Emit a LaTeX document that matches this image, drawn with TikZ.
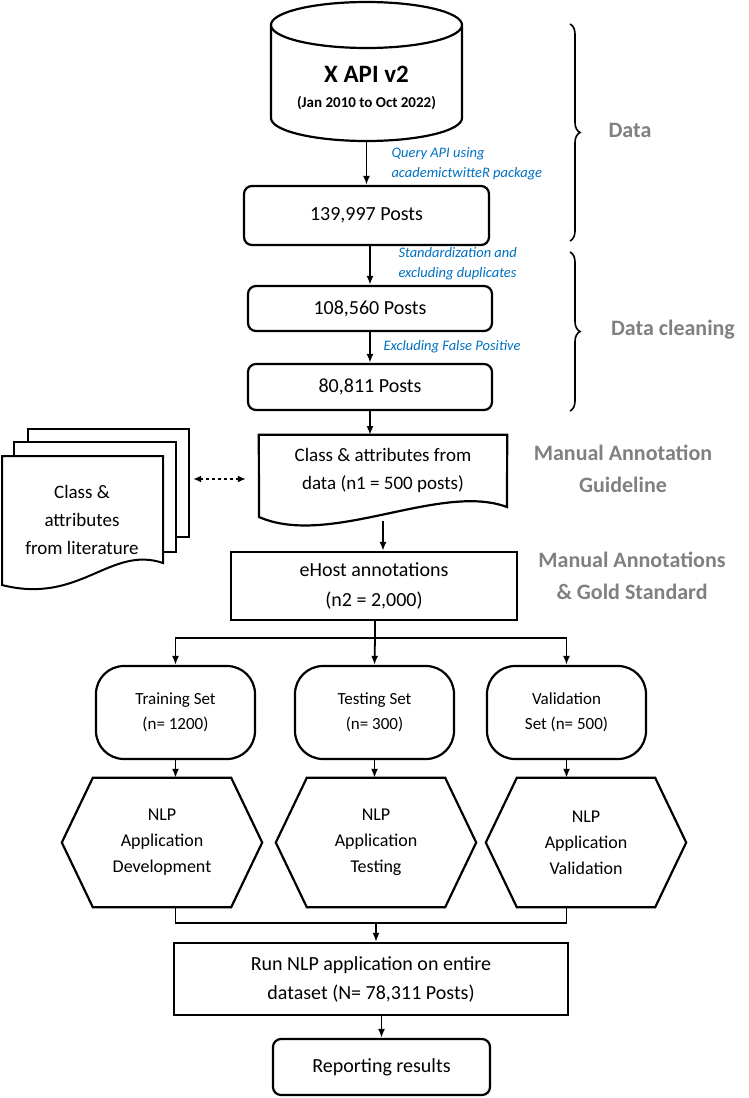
\documentclass[tikz,border=0pt]{standalone}
\usepackage{fontspec}
\setmainfont{Carlito}
\usetikzlibrary{arrows.meta,decorations.pathreplacing}
\definecolor{labgray}{RGB}{128,128,128}
\definecolor{noteblue}{RGB}{0,112,192}
\tikzset{
  box/.style={draw, line width=2.2pt, inner sep=0pt, align=center, font=\fontsize{20}{26}\selectfont},
  rbox/.style={box, rounded corners=8pt},
  setbox/.style={box, rounded corners=28pt, minimum width=159pt, minimum height=93pt, font=\fontsize{17}{25}\selectfont},
  hexbox/.style={inner sep=0pt, align=center, minimum width=200pt, minimum height=129pt, font=\fontsize{18}{26}\selectfont},
  conn/.style={line width=1.8pt},
  arr/.style={conn, -{Latex[length=9pt,width=7pt]}},
  note/.style={text=noteblue, font=\itshape\fontsize{14.5}{20}\selectfont, align=left, anchor=west},
  phase/.style={text=labgray, font=\bfseries\fontsize{22}{32}\selectfont, align=center},
  stage/.style={decorate, decoration={brace, amplitude=10pt}, line width=1.6pt}
}
\begin{document}
\begin{tikzpicture}[x=1pt, y=-1pt]
\useasboundingbox (0,0) rectangle (748,1098);
% Source database
\node[inner sep=0pt, minimum width=191pt, minimum height=139pt] (api) at (366.5,71.5) {};
\draw[line width=2.2pt] (271,25) -- (271,118) arc[start angle=180, end angle=360, x radius=95.5, y radius=-23] -- (462,25)
  arc[start angle=0, end angle=360, x radius=95.5, y radius=-23];
\node[font=\bfseries\fontsize{25}{30}\selectfont] at (366.5,74) {X API v2};
\node[font=\bfseries\fontsize{15}{18}\selectfont] at (366.5,103) {(Jan 2010 to Oct 2022)};
% Post counts
\node[rbox, minimum width=245pt, minimum height=59pt] (raw) at (366.5,215.5) {139,997 Posts};
\node[rbox, minimum width=244pt, minimum height=45pt] (std) at (370,308.5) {108,560 Posts};
\node[rbox, minimum width=244pt, minimum height=46pt] (clean) at (370,387) {80,811 Posts};
\draw[arr] (api.south -| raw.north) -- (raw.north);
\draw[arr] (raw.south -| std.north) -- (std.north);
\draw[arr] (clean.north |- std.south) -- (clean.north);
\node[note] at (388,164) {Query API using\\academictwitteR package};
\node[note] at (395,264) {Standardization and\\excluding duplicates};
\node[note] at (380,347) {Excluding False Positive};
% Guideline document
\node[inner sep=0pt, minimum width=248pt, minimum height=70pt, align=center, font=\fontsize{19}{28}\selectfont] (doc) at (383,470) {Class \& attributes from\\data (n1 = 500 posts)};
\draw[line width=2.2pt] (doc.north west) -- (doc.north east) -- (507,507)
  .. controls (440,482) and (330,548) .. (259,517) -- cycle;
\draw[arr] (clean.south -| 370,0) -- (370,435);
% Literature stack
\draw[line width=2pt, fill=white] (28,429) rectangle (189,537);
\draw[line width=2pt, fill=white] (14,442) rectangle (176,552);
\draw[line width=2pt, fill=white] (2,456) -- (163,456) -- (163,563)
  .. controls (110,545) and (80,605) .. (2,585) -- cycle;
\node[inner sep=0pt, minimum width=187pt, align=center, font=\fontsize{19}{28}\selectfont] (stack) at (95.5,479) {};
\node[align=center, font=\fontsize{19}{28}\selectfont] at (82,520) {Class \&\\attributes\\from literature};
\draw[conn, dashed, {Latex[length=8pt,width=7pt]}-{Latex[length=8pt,width=7pt]}, shorten <=4pt, shorten >=13pt] (stack.east) -- (stack.east -| doc.west);
% Annotations
\node[box, minimum width=286pt, minimum height=68pt, font=\fontsize{20}{30}\selectfont] (ehost) at (374,586) {eHost annotations\\(n2 = 2,000)};
\draw[arr] (doc.south |- 0,521) -- (ehost.north -| doc.south);
% Data splits
\node[setbox] (train) at (175.5,712.5) {Training Set\\(n= 1200)};
\node[setbox] (test) at (374.5,712.5) {Testing Set\\(n= 300)};
\node[setbox] (valid) at (566.5,712.5) {Validation\\Set (n= 500)};
\coordinate (fork) at (375,638);
\draw[conn] (ehost.south -| fork) -- (fork);
\draw[arr] (fork) -| (train.north);
\draw[arr] (fork) -| (valid.north);
\draw[arr] (fork) -- (test.north);
% NLP applications
\node[hexbox] (dev) at (162,842.5) {NLP\\Application\\Development};
\node[hexbox] (tst) at (376,842.5) {NLP\\Application\\Testing};
\node[hexbox] (val) at (586,842.5) {NLP\\Application\\Validation};
\foreach \n in {dev,tst,val}
  \draw[line width=2.2pt] (\n.west) -- ([xshift=31pt]\n.north west) -- ([xshift=-31pt]\n.north east)
    -- (\n.east) -- ([xshift=-31pt]\n.south east) -- ([xshift=31pt]\n.south west) -- cycle;
\draw[arr] (train.south) -- (train.south |- dev.north);
\draw[arr] (test.south) -- (test.south |- tst.north);
\draw[arr] (valid.south) -- (valid.south |- val.north);
% Final steps
\node[box, minimum width=394pt, minimum height=72pt, font=\fontsize{20}{29}\selectfont] (run) at (371,979) {Run NLP application on entire\\dataset (N= 78,311 Posts)};
\node[rbox, minimum width=217pt, minimum height=56pt] (report) at (381.5,1067) {Reporting results};
\coordinate (join) at (375,923);
\draw[conn] (train.south |- dev.south) |- (join) -| (valid.south |- val.south);
\draw[arr] (join -| tst.south) -- (run.north -| tst.south);
\draw[arr] (run.south -| report.north) -- (report.north);
% Phase braces
\draw[stage] (570,24) -- (570,241);
\draw[stage] (570,252) -- (570,411);
\node[phase] at (630,130) {Data};
\node[phase] at (673,330) {Data cleaning};
\node[phase] at (623,469) {Manual Annotation\\Guideline};
\node[phase] at (632,576) {Manual Annotations\\\& Gold Standard};
\end{tikzpicture}
\end{document}
